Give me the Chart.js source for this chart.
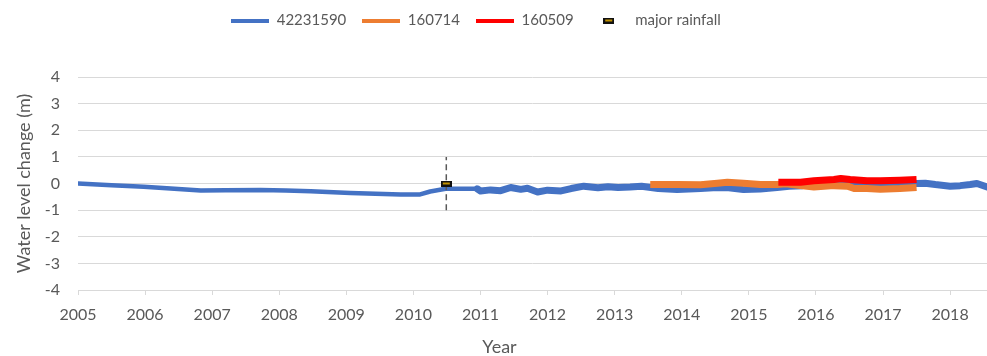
<!DOCTYPE html>
<html>
<head>
<meta charset="utf-8">
<script src="https://cdn.jsdelivr.net/npm/chart.js@4.4.1/dist/chart.umd.min.js"></script>
<style>
  html, body { margin: 0; padding: 0; background: #fff; }
  #wrap { width: 987px; height: 356px; position: relative; }
</style>
</head>
<body>
<div id="wrap"><canvas id="chartWater"></canvas></div>
<script>
// values (year, water level change in m)
const blueYears = [2005.0, 2005.5, 2005.98, 2006.38, 2006.83, 2007.2, 2007.72, 2008.1, 2008.47, 2009.06, 2009.81, 2010.1, 2010.25, 2010.48, 2010.95,
  2011.0, 2011.15, 2011.3, 2011.45, 2011.6, 2011.7, 2011.85, 2012.0, 2012.2, 2012.35, 2012.54, 2012.75, 2012.9, 2013.05, 2013.23, 2013.4,
  2013.65, 2013.93, 2014.28, 2014.53, 2014.7, 2014.92, 2015.17, 2015.42, 2015.6, 2015.8, 2016.0, 2016.3, 2016.5, 2016.96, 2017.2, 2017.5,
  2017.63, 2017.78, 2018.0, 2018.15, 2018.3, 2018.4, 2018.55];
const blueLevels = [0, -0.07, -0.12, -0.19, -0.26, -0.25, -0.24, -0.26, -0.29, -0.36, -0.41, -0.41, -0.30, -0.2, -0.2,
  -0.28, -0.24, -0.27, -0.15, -0.22, -0.18, -0.32, -0.25, -0.28, -0.19, -0.1, -0.16, -0.12, -0.15, -0.13, -0.1,
  -0.19, -0.23, -0.19, -0.15, -0.16, -0.23, -0.21, -0.15, -0.1, -0.08, -0.03, 0.01, 0.0, -0.08, -0.04, 0.0,
  0.01, -0.04, -0.1, -0.08, -0.04, 0.0, -0.13];

const orangeYears = [2013.53, 2013.93, 2014.28, 2014.53, 2014.68, 2014.92, 2015.17, 2015.42, 2015.55, 2015.77, 2015.97, 2016.27, 2016.47, 2016.57, 2016.76, 2016.96, 2017.25, 2017.5];
const orangeLevels = [-0.04, -0.04, -0.05, 0.01, 0.05, 0.01, -0.04, -0.04, -0.01, -0.08, -0.13, -0.08, -0.1, -0.19, -0.19, -0.22, -0.19, -0.15];

const redYears = [2015.44, 2015.77, 2015.97, 2016.27, 2016.37, 2016.51, 2016.76, 2016.96, 2017.25, 2017.5];
const redLevels = [0.05, 0.05, 0.1, 0.15, 0.19, 0.15, 0.1, 0.1, 0.12, 0.15];

const rainfallYears = [2010.49];
const rainfallLevels = [0];
const rainfallBar = [-1, 1];

const yearTicks = [2005, 2006, 2007, 2008, 2009, 2010, 2011, 2012, 2013, 2014, 2015, 2016, 2017, 2018];

const toPoints = (xs, ys) => xs.map((x, i) => ({ x: x, y: ys[i] }));

// small canvases used as legend icons / rainfall marker
function lineIcon(color) {
  const c = document.createElement('canvas');
  c.width = 38; c.height = 4;
  const g = c.getContext('2d');
  g.fillStyle = color;
  g.fillRect(0, 0, 38, 4);
  return c;
}
function rainIcon() {
  const c = document.createElement('canvas');
  c.width = 11; c.height = 6;
  const g = c.getContext('2d');
  g.fillStyle = '#111';
  g.fillRect(0, 0, 11, 6);
  g.fillStyle = '#bf9000';
  g.fillRect(2, 2, 7, 2);
  return c;
}
const rainMarker = rainIcon();
const legendIcons = [lineIcon('#4472c4'), lineIcon('#ed7d31'), lineIcon('#ff0000'), rainMarker];

const noisy = (from, thin, thick) => (ctx) => ctx.p0.parsed.x >= from ? thick : thin;

const textGray = '#595959';

const extras = {
  id: 'extras',
  beforeInit(chart) {
    const fit = chart.legend.fit;
    chart.legend.fit = function () {
      fit.call(this);
      this.height = 77;
    };
  },
  afterLayout(chart) {
    chart.legend.right -= 35;
    chart.legend.top -= 3;
  },
  afterDraw(chart) {
    const ctx = chart.ctx;
    ctx.save();
    ctx.font = '18px Lato';
    ctx.fillStyle = textGray;
    ctx.textAlign = 'center';
    ctx.textBaseline = 'middle';
    ctx.fillText('Year', 499.5, 347);
    ctx.restore();
  }
};

const data = {
  datasets: [
    {
      label: '42231590',
      data: toPoints(blueYears, blueLevels),
      borderColor: '#4472c4',
      borderWidth: 4.5,
      segment: { borderWidth: noisy(2010.9, 4.5, 7) },
      borderJoinStyle: 'round',
      borderCapStyle: 'round',
      pointRadius: 0,
      order: 4
    },
    {
      label: '160714',
      data: toPoints(orangeYears, orangeLevels),
      borderColor: '#ed7d31',
      borderWidth: 7,
      borderJoinStyle: 'round',
      pointRadius: 0,
      order: 3
    },
    {
      label: '160509',
      data: toPoints(redYears, redLevels),
      borderColor: '#ff0000',
      borderWidth: 7,
      borderJoinStyle: 'round',
      pointRadius: 0,
      order: 2
    },
    {
      label: 'major rainfall',
      data: toPoints(rainfallYears, rainfallLevels),
      showLine: false,
      pointStyle: rainMarker,
      pointRadius: 6,
      order: 0
    },
    {
      label: '',
      data: rainfallBar.map(y => ({ x: rainfallYears[0], y: y })),
      borderColor: '#595959',
      borderWidth: 1.5,
      borderDash: [6, 4],
      pointRadius: 0,
      order: 1
    }
  ]
};

const config = {
  type: 'line',
  data: data,
  options: {
    responsive: true,
    maintainAspectRatio: false,
    animation: false,
    events: [],
    layout: { padding: 0, autoPadding: false },
    plugins: {
      tooltip: { enabled: false },
      legend: {
        display: true,
        position: 'top',
        labels: {
          usePointStyle: true,
          pointStyleWidth: 38,
          boxHeight: 4,
          padding: 16,
          color: textGray,
          font: { family: 'Lato', size: 15 },
          generateLabels: (chart) => chart.data.datasets.slice(0, 4).map((ds, i) => ({
            text: ds.label,
            pointStyle: legendIcons[i],
            fontColor: textGray,
            fillStyle: 'transparent',
            strokeStyle: 'transparent',
            lineWidth: 0,
            hidden: false,
            datasetIndex: i
          }))
        }
      }
    },
    scales: {
      x: {
        type: 'linear',
        min: 2005,
        max: 2018.55,
        afterBuildTicks: (scale) => { scale.ticks = yearTicks.map(v => ({ value: v })); },
        afterFit: (scale) => { scale.height = 66; scale.paddingRight = 0; },
        ticks: {
          callback: (v) => String(v),
          autoSkip: false,
          maxRotation: 0,
          padding: 10,
          color: textGray,
          font: { family: 'Lato', size: 16 }
        },
        grid: { drawOnChartArea: false, drawTicks: true, tickLength: 5, color: '#d9d9d9' },
        border: { color: '#d9d9d9', width: 1 }
      },
      y: {
        min: -4,
        max: 4,
        afterFit: (scale) => { scale.width = 78; },
        ticks: {
          stepSize: 1,
          padding: 18,
          color: textGray,
          font: { family: 'Lato', size: 16 }
        },
        grid: { color: '#d9d9d9', drawTicks: false },
        border: { display: false },
        title: {
          display: true,
          text: 'Water level change (m)',
          color: textGray,
          font: { family: 'Lato', size: 18 },
          padding: { top: 13, bottom: 0 }
        }
      }
    }
  },
  plugins: [extras]
};

const node = document.getElementById('chartWater');
const chartWater = new Chart(node, config);
</script>
</body>
</html>
